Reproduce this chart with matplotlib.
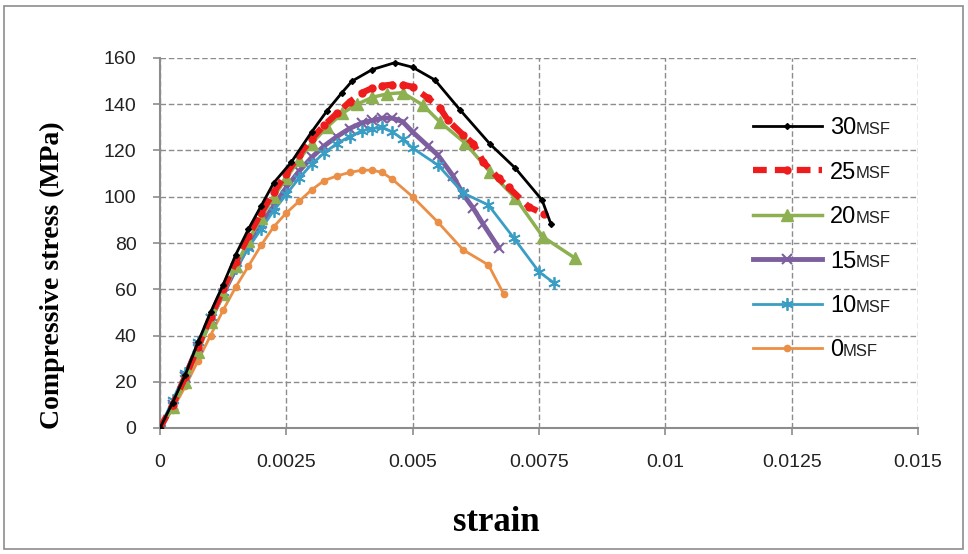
import matplotlib
matplotlib.use("Agg")
import matplotlib.pyplot as plt
from matplotlib.patches import Rectangle

# stress-strain data (strain, MPa)
x30 = [0, 0.00025, 0.0005, 0.00075, 0.001, 0.00125, 0.0015, 0.00175, 0.002, 0.00225, 0.0026,
       0.003, 0.0033, 0.0036, 0.0038, 0.0042, 0.00465, 0.005, 0.00544, 0.00594, 0.00653,
       0.00703, 0.00756, 0.00774]
y30 = [0, 11, 23, 37, 50, 62, 75, 86, 96, 106, 115, 128, 137, 145, 150, 155, 158, 156, 150.5,
       137.5, 122.8, 112.4, 98.6, 88]

x25 = [0, 0.00025, 0.0005, 0.00075, 0.001, 0.00125, 0.0015, 0.00175, 0.002, 0.00225, 0.0025,
       0.00275, 0.003, 0.00325, 0.0035, 0.00375, 0.004, 0.0042, 0.0044, 0.0046, 0.0048, 0.005,
       0.0053, 0.00554, 0.0057, 0.006, 0.0062, 0.0064, 0.0067, 0.0069, 0.0073, 0.0076]
y25 = [0, 10, 22, 35, 48, 60, 72, 83, 93, 102, 110, 118, 125, 131, 136, 141, 145, 147, 148,
       148.5, 148.5, 147.5, 142.7, 138.4, 133, 126.7, 123, 115, 108, 104, 95.6, 92.5]

x20 = [0, 0.00025, 0.0005, 0.00075, 0.001, 0.00125, 0.0015, 0.00175, 0.002, 0.00225, 0.0025,
       0.00275, 0.003, 0.0033, 0.0036, 0.0039, 0.0042, 0.0045, 0.0048, 0.0052, 0.00554,
       0.00604, 0.00653, 0.00703, 0.00758, 0.00821]
y20 = [-1, 9, 20, 33, 46, 58, 70, 81, 91, 100, 108, 116, 123, 130, 136, 140, 143, 144.5, 145,
       139.7, 132.3, 123.2, 110.7, 99.5, 82.6, 73.5]

x15 = [0, 0.00025, 0.0005, 0.00075, 0.001, 0.00125, 0.0015, 0.00175, 0.002, 0.00225, 0.0025,
       0.00275, 0.003, 0.00325, 0.0035, 0.00375, 0.004, 0.0042, 0.0044, 0.0046, 0.0048, 0.005,
       0.0053, 0.0055, 0.0058, 0.006, 0.0062, 0.0064, 0.0067]
y15 = [0, 10, 22, 35, 47, 58, 69, 79, 88, 96, 104, 111, 117, 122, 126, 129.5, 132, 133, 134,
       134, 132.5, 128, 122, 118, 109, 101, 95, 88, 78]

x10 = [0, 0.00025, 0.0005, 0.00075, 0.001, 0.00125, 0.0015, 0.00175, 0.002, 0.00225, 0.0025,
       0.00275, 0.003, 0.00325, 0.0035, 0.00375, 0.004, 0.0042, 0.0044, 0.0046, 0.0048, 0.005,
       0.0055, 0.006, 0.0065, 0.007, 0.0075, 0.0078]
y10 = [0, 12, 24, 37, 48, 59, 69, 78, 86, 94, 101, 108, 114, 119, 123, 126, 128.5, 129.5, 130,
       128, 125, 121, 113.7, 101.6, 96.4, 82.2, 67.5, 62.7]

x0 = [0, 0.00025, 0.0005, 0.00075, 0.001, 0.00125, 0.0015, 0.00175, 0.002, 0.00225, 0.0025,
      0.00275, 0.003, 0.00325, 0.0035, 0.00375, 0.004, 0.0042, 0.0044, 0.0046, 0.005, 0.0055,
      0.006, 0.0065, 0.0068]
y0 = [0, 8, 18, 29, 40, 51, 61, 70, 79, 87, 93, 98, 103, 107, 109, 110.5, 111.5, 111.5, 110.5,
      107.5, 100, 89, 77, 70.5, 58]

labels = ["30", "25", "20", "15", "10", "0"]
xticks = [0, 0.0025, 0.005, 0.0075, 0.01, 0.0125, 0.015]
xticklabels = ["0", "0.0025", "0.005", "0.0075", "0.01", "0.0125", "0.015"]
yticks = [0, 20, 40, 60, 80, 100, 120, 140, 160]

plt.rcParams["font.family"] = ["Liberation Sans", "DejaVu Sans"]

fig = plt.figure(figsize=(9.68, 5.54), dpi=100)
fig.patches.append(Rectangle((4 / 968, 5 / 554), 959 / 968, 543 / 554, transform=fig.transFigure,
                             fill=False, edgecolor="#8c8c8c", linewidth=1.2))
ax = fig.add_axes([160 / 968, 1 - 428 / 554, 758 / 968, 370 / 554])

ax.plot(x30, y30, color="black", lw=2, marker="D", ms=3, label=labels[0], zorder=8)
ax.plot(x25, y25, color="#ee1c1c", lw=4.5, ls=(0, (2.2, 1.3)), marker="o", ms=5,
        label=labels[1], zorder=7)
ax.plot(x20, y20, color="#8db050", lw=2.5, marker="^", ms=8, label=labels[2], zorder=6)
ax.plot(x15, y15, color="#7d5fa0", lw=3.5, marker="x", ms=7, mew=1.5, label=labels[3], zorder=5)
ax.plot(x10, y10, color="#3a9ec4", lw=2, marker=(6, 2, 0), ms=9, mew=1.3, label=labels[4],
        zorder=5)
ax.plot(x0, y0, color="#ea8f45", lw=2, marker="o", ms=4.5, label=labels[5], zorder=4)

ax.set_xlim(0, 0.015)
ax.set_ylim(0, 160)
ax.set_xticks(xticks)
ax.set_xticklabels(xticklabels)
ax.set_yticks(yticks)
ax.tick_params(labelsize=14, colors="#222222", length=5, width=1.2)
ax.tick_params(axis="x", pad=14)
ax.tick_params(axis="y", pad=12)
ax.tick_params(axis="both", color="#8c8c8c")
ax.grid(True, color="#8c8c8c", ls=(0, (4, 2)), lw=1)
ax.set_axisbelow(True)
for s in ["top", "right"]:
    ax.spines[s].set_visible(False)
for s in ["left", "bottom"]:
    ax.spines[s].set_color("#8c8c8c")
    ax.spines[s].set_linewidth(1.5)

ax.set_ylabel("Compressive stress (MPa)", family="Liberation Serif", fontweight="bold",
              fontsize=20)
ax.yaxis.set_label_coords(-95 / 758, (428 - 275) / 370)
ax.set_xlabel("strain", family="Liberation Serif", fontweight="bold", fontsize=25)
ax.xaxis.set_label_coords((496 - 160) / 758, -(506 - 428) / 370)

leg = ax.legend(loc="center left", bbox_to_anchor=(0.77, 0.51), frameon=False, fontsize=17,
                handlelength=2.9, labelspacing=0.95, handletextpad=0.35, borderaxespad=0)
for t in leg.get_texts():
    ax.annotate("MSF", xy=(1, 0.1), xycoords=t, va="bottom", ha="left", fontsize=12,
                color="#222222", zorder=10)

fig.savefig("out.png", dpi=100)
